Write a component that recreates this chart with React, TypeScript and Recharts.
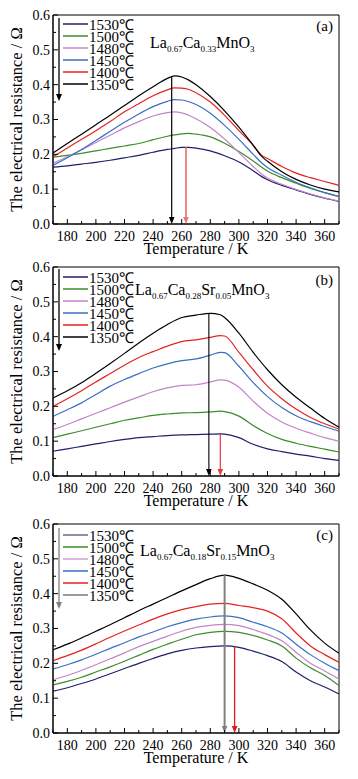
import React from "react";
import {
  Label,
  Legend,
  Line,
  LineChart,
  ReferenceArea,
  ReferenceLine,
  XAxis,
  YAxis,
} from "recharts";

const serif = "'Liberation Serif', 'Times New Roman', serif";

const names = ["1530℃", "1500℃", "1480℃", "1450℃", "1400℃", "1350℃"];
const colors = ["#1f1f6e", "#3c8c2c", "#c384c8", "#3b6fc2", "#e62222", "#000000"];

const xTicks = [170, 180, 190, 200, 210, 220, 230, 240, 250, 260, 270, 280, 290, 300, 310, 320, 330, 340, 350, 360, 370];
const yTicks = [0, 0.05, 0.1, 0.15, 0.2, 0.25, 0.3, 0.35, 0.4, 0.45, 0.5, 0.55, 0.6];

// (a) La0.67Ca0.33MnO3
const tempsA = [170, 180, 190, 200, 210, 220, 230, 240, 250, 255, 260, 265, 270, 280, 290, 300, 310, 316, 320, 330, 340, 350, 360, 370];
const a1530 = [0.163, 0.167, 0.172, 0.177, 0.183, 0.19, 0.197, 0.206, 0.214, 0.217, 0.22, 0.22, 0.218, 0.21, 0.196, 0.178, 0.153, 0.136, 0.127, 0.111, 0.098, 0.085, 0.074, 0.065];
const a1500 = [0.192, 0.197, 0.203, 0.21, 0.217, 0.224, 0.231, 0.242, 0.252, 0.256, 0.259, 0.26, 0.258, 0.25, 0.232, 0.208, 0.181, 0.163, 0.152, 0.133, 0.117, 0.102, 0.09, 0.079];
const a1480 = [0.174, 0.193, 0.213, 0.234, 0.255, 0.276, 0.294, 0.31, 0.32, 0.322, 0.319, 0.312, 0.302, 0.277, 0.244, 0.205, 0.165, 0.143, 0.132, 0.114, 0.099, 0.086, 0.075, 0.066];
const a1450 = [0.168, 0.19, 0.214, 0.24, 0.266, 0.292, 0.316, 0.337, 0.352, 0.357, 0.356, 0.351, 0.343, 0.318, 0.283, 0.243, 0.2, 0.175, 0.162, 0.14, 0.12, 0.104, 0.09, 0.079];
const a1400 = [0.193, 0.218, 0.243, 0.268, 0.294, 0.322, 0.345, 0.368, 0.385, 0.391, 0.39, 0.386, 0.377, 0.35, 0.312, 0.268, 0.226, 0.197, 0.188, 0.165, 0.146, 0.133, 0.122, 0.111];
const a1350 = [0.204, 0.231, 0.258, 0.285, 0.312, 0.34, 0.368, 0.394, 0.418, 0.425, 0.422, 0.413, 0.4, 0.366, 0.325, 0.278, 0.226, 0.194, 0.18, 0.15, 0.128, 0.112, 0.1, 0.092];
const arrowsA = [253, 263];

// (b) La0.67Ca0.28Sr0.05MnO3
const tempsB = [170, 180, 190, 200, 210, 220, 230, 240, 250, 260, 270, 280, 287, 290, 300, 310, 320, 330, 340, 350, 360, 370];
const b1530 = [0.071, 0.078, 0.085, 0.092, 0.099, 0.105, 0.11, 0.113, 0.116, 0.118, 0.119, 0.12, 0.121, 0.12, 0.11, 0.091, 0.078, 0.07, 0.063, 0.057, 0.05, 0.045];
const b1500 = [0.11, 0.12, 0.13, 0.14, 0.15, 0.16, 0.167, 0.174, 0.178, 0.181, 0.182, 0.184, 0.186, 0.185, 0.172, 0.145, 0.122, 0.105, 0.094, 0.085, 0.077, 0.069];
const b1480 = [0.133, 0.148, 0.164, 0.18, 0.196, 0.212, 0.227, 0.242, 0.253, 0.26, 0.262, 0.27, 0.276, 0.275, 0.255, 0.215, 0.18, 0.155, 0.137, 0.123, 0.11, 0.1];
const b1450 = [0.171, 0.19, 0.21, 0.234, 0.258, 0.277, 0.294, 0.31, 0.322, 0.331, 0.336, 0.347, 0.355, 0.354, 0.315, 0.268, 0.228, 0.197, 0.173, 0.156, 0.142, 0.129];
const b1400 = [0.2, 0.222, 0.245, 0.27, 0.294, 0.318, 0.34, 0.357, 0.373, 0.386, 0.391, 0.398, 0.403, 0.402, 0.355, 0.305, 0.258, 0.222, 0.192, 0.168, 0.15, 0.135];
const b1350 = [0.224, 0.245, 0.268, 0.295, 0.323, 0.352, 0.382, 0.41, 0.435, 0.455, 0.462, 0.467, 0.463, 0.455, 0.41, 0.355, 0.305, 0.262, 0.226, 0.195, 0.165, 0.14];
const arrowsB = [279, 287];

// (c) La0.67Ca0.18Sr0.15MnO3
const tempsC = [170, 180, 190, 200, 210, 220, 230, 240, 250, 260, 270, 280, 290, 300, 310, 320, 330, 340, 350, 360, 370];
const c1530 = [0.12, 0.13, 0.142, 0.155, 0.17, 0.185, 0.2, 0.214, 0.227, 0.237, 0.244, 0.248, 0.25, 0.246, 0.235, 0.222, 0.205, 0.175, 0.15, 0.132, 0.112];
const c1500 = [0.138, 0.148, 0.16, 0.175, 0.19, 0.206, 0.223, 0.24, 0.255, 0.269, 0.282, 0.289, 0.292, 0.289, 0.28, 0.267, 0.25, 0.215, 0.187, 0.165, 0.136];
const c1480 = [0.153, 0.165, 0.18, 0.196, 0.213, 0.23, 0.248, 0.263, 0.278, 0.292, 0.303, 0.309, 0.312, 0.308, 0.297, 0.283, 0.265, 0.232, 0.2, 0.178, 0.155];
const c1450 = [0.184, 0.196, 0.21, 0.226, 0.243, 0.259, 0.276, 0.29, 0.305, 0.317, 0.327, 0.333, 0.336, 0.331, 0.318, 0.305, 0.287, 0.255, 0.225, 0.2, 0.179];
const c1400 = [0.208, 0.222, 0.238, 0.256, 0.275, 0.293, 0.31, 0.327, 0.342, 0.354, 0.363, 0.37, 0.372, 0.366, 0.36, 0.35, 0.328, 0.287, 0.25, 0.225, 0.203];
const c1350 = [0.239, 0.255, 0.273, 0.292, 0.311, 0.331, 0.351, 0.37, 0.389, 0.408, 0.426, 0.443, 0.453, 0.444, 0.428, 0.41, 0.384, 0.342, 0.296, 0.258, 0.229];
const arrowsC = [290, 297];

type PanelCfg = {
  top: number;
  temps: number[];
  series: number[][];
  arrows: number[];
  formula: [string, string][];
  formulaX: number;
  formulaY: number;
  tag: string;
  tagY: number;
  legendY: number;
  legendArrow: [number, number];
  legendArrowColor: string;
  legendColors: string[];
  peakColor: string;
  peakWidth: number;
  redColor: string;
  redWidth: number;
};

const arrowShape = (color: string, width: number) => (props: any) => {
  const { x1, y1, x2, y2 } = props;
  return (
    <g>
      <line x1={x1} y1={y1} x2={x2} y2={y2 - 6} stroke={color} strokeWidth={width} />
      <polygon points={`${x2 - 2.8},${y2 - 7} ${x2 + 2.8},${y2 - 7} ${x2},${y2}`} fill={color} />
    </g>
  );
};

const XTick = (props: any) => {
  const { x, y, payload } = props;
  const major = payload.value % 20 === 0;
  return (
    <g>
      <line x1={x} x2={x} y1={y} y2={y - (major ? 5 : 3)} stroke="#000" />
      {major && (
        <text x={x} y={y + 16.5} textAnchor="middle" fontSize={14} fontFamily={serif} fill="#000">
          {payload.value}
        </text>
      )}
    </g>
  );
};

const YTick = (props: any) => {
  const { x, y, payload } = props;
  const major = Math.round(payload.value * 100) % 10 === 0;
  return (
    <g>
      <line x1={x} x2={x + (major ? 5 : 3)} y1={y} y2={y} stroke="#000" />
      {major && (
        <text x={x - 3} y={y} dy="0.35em" textAnchor="end" fontSize={14} fontFamily={serif} fill="#000">
          {payload.value.toFixed(1)}
        </text>
      )}
    </g>
  );
};

const XLabel = (props: any) => {
  const vb = props.viewBox;
  return (
    <text x={vb.x + vb.width / 2} y={vb.y + 30} textAnchor="middle" fontSize={16} fontFamily={serif} fill="#000">
      Temperature / K
    </text>
  );
};

const YLabel = (props: any) => {
  const vb = props.viewBox;
  const cy = vb.y + vb.height / 2;
  return (
    <text
      x={16}
      y={cy}
      dy="0.35em"
      transform={`rotate(-90, 16, ${cy})`}
      textAnchor="middle"
      fontSize={16.5}
      fontFamily={serif}
      fill="#000"
    >
      The electrical resistance / Ω
    </text>
  );
};

// legend drawn in the same order as the series (the reference lists 1530 first)
const legendContent = (cfg: PanelCfg) => () => {
  const [a0, a1] = cfg.legendArrow;
  return (
    <svg width={358} height={100} style={{ display: "block", overflow: "visible" }}>
      <line x1={59} x2={59} y1={a0} y2={a1 - 6} stroke={cfg.legendArrowColor} strokeWidth={1.3} />
      <polygon points={`${56},${a1 - 7} ${62},${a1 - 7} ${59},${a1}`} fill={cfg.legendArrowColor} />
      {names.map((name, i) => {
        const y = cfg.legendY + i * 12;
        return (
          <g key={name}>
            <line x1={63} x2={88} y1={y} y2={y} stroke={cfg.legendColors[i]} strokeWidth={1.5} />
            <text x={89} y={y + 5.5} fontSize={15} fontFamily={serif} fill="#000">
              {name}
            </text>
          </g>
        );
      })}
      <text x={cfg.formulaX} y={cfg.formulaY} fontSize={16} fontFamily={serif} fill="#000">
        {cfg.formula.map(([main, sub], i) => (
          <React.Fragment key={i}>
            <tspan dy={i === 0 ? 0 : -3.5}>{main}</tspan>
            <tspan fontSize={9} dy={3.5}>
              {sub}
            </tspan>
          </React.Fragment>
        ))}
      </text>
      <text x={333} y={cfg.tagY} textAnchor="end" fontSize={15} fontFamily={serif} fill="#000">
        {cfg.tag}
      </text>
    </svg>
  );
};

function Panel({ cfg }: { cfg: PanelCfg }) {
  const rows = cfg.temps.map((t, i) => {
    const row: Record<string, number> = { t };
    cfg.series.forEach((s, k) => {
      row["s" + k] = s[i];
    });
    return row;
  });
  const peakTop = Math.max(...cfg.series[5]);
  const redTop = Math.max(...cfg.series[0]);

  return (
    <div style={{ position: "absolute", left: 0, top: cfg.top }}>
      <LineChart width={358} height={262} data={rows} margin={{ top: 15, right: 19, bottom: 12, left: 0 }}>
        <XAxis
          dataKey="t"
          type="number"
          domain={[170, 370]}
          ticks={xTicks}
          interval={0}
          tickSize={0}
          tickMargin={0}
          tickLine={false}
          tick={<XTick />}
          height={26}
          axisLine={{ stroke: "#000" }}
          label={<Label content={<XLabel />} />}
        />
        <YAxis
          type="number"
          domain={[0, 0.6]}
          ticks={yTicks}
          interval={0}
          tickSize={0}
          tickMargin={0}
          tickLine={false}
          tick={<YTick />}
          width={53}
          axisLine={{ stroke: "#000" }}
          label={<Label content={<YLabel />} />}
        />
        <ReferenceArea x1={170} x2={370} y1={0} y2={0.6} fill="none" stroke="#000" strokeWidth={1} />
        {cfg.series.map((_, k) => (
          <Line
            key={names[k]}
            dataKey={"s" + k}
            name={names[k]}
            type="monotone"
            stroke={colors[k]}
            strokeWidth={1.2}
            dot={false}
            isAnimationActive={false}
          />
        ))}
        <ReferenceLine
          segment={[
            { x: cfg.arrows[0], y: peakTop },
            { x: cfg.arrows[0], y: 0 },
          ]}
          shape={arrowShape(cfg.peakColor, cfg.peakWidth)}
        />
        <ReferenceLine
          segment={[
            { x: cfg.arrows[1], y: redTop },
            { x: cfg.arrows[1], y: 0 },
          ]}
          shape={arrowShape(cfg.redColor, cfg.redWidth)}
        />
        <Legend
          layout="horizontal"
          verticalAlign="middle"
          align="center"
          content={legendContent(cfg)}
          wrapperStyle={{ position: "absolute", top: 0, left: 0, width: 358, height: 100, pointerEvents: "none" }}
        />
      </LineChart>
    </div>
  );
}

const panels: PanelCfg[] = [
  {
    top: 0,
    temps: tempsA,
    series: [a1530, a1500, a1480, a1450, a1400, a1350],
    arrows: arrowsA,
    formula: [["La", "0.67"], ["Ca", "0.33"], ["MnO", "3"]],
    formulaX: 150,
    formulaY: 48,
    tag: "(a)",
    tagY: 31,
    legendY: 24,
    legendArrow: [18, 101],
    legendArrowColor: "#000",
    legendColors: colors,
    peakColor: "#000",
    peakWidth: 1.2,
    redColor: "#ec7474",
    redWidth: 1.7,
  },
  {
    top: 252,
    temps: tempsB,
    series: [b1530, b1500, b1480, b1450, b1400, b1350],
    arrows: arrowsB,
    formula: [["La", "0.67"], ["Ca", "0.28"], ["Sr", "0.05"], ["MnO", "3"]],
    formulaX: 135,
    formulaY: 43,
    tag: "(b)",
    tagY: 33,
    legendY: 25,
    legendArrow: [17, 99],
    legendArrowColor: "#000",
    legendColors: colors,
    peakColor: "#000",
    peakWidth: 1.1,
    redColor: "#e63a3a",
    redWidth: 1.2,
  },
  {
    top: 509,
    temps: tempsC,
    series: [c1530, c1500, c1480, c1450, c1400, c1350],
    arrows: arrowsC,
    formula: [["La", "0.67"], ["Ca", "0.18"], ["Sr", "0.15"], ["MnO", "3"]],
    formulaX: 140,
    formulaY: 47,
    tag: "(c)",
    tagY: 31,
    legendY: 26,
    legendArrow: [19, 100],
    legendArrowColor: "#808080",
    legendColors: ["#6a6a8e", "#3c8c2c", "#d0a0d4", "#3b6fc2", "#e62222", "#7a7a7a"],
    peakColor: "#808080",
    peakWidth: 2,
    redColor: "#e01818",
    redWidth: 1.3,
  },
];

export default function App() {
  return (
    <div style={{ position: "absolute", left: 0, top: 0, width: 358, height: 779, background: "#fff" }}>
      {panels.map((p) => (
        <Panel key={p.tag} cfg={p} />
      ))}
    </div>
  );
}
